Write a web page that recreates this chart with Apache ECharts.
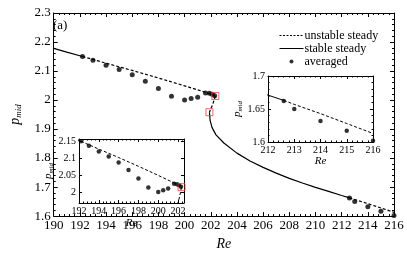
<!DOCTYPE html>
<html><head><meta charset="utf-8">
<script src="https://cdn.jsdelivr.net/npm/echarts@6/dist/echarts.min.js"></script>
<style>html,body{margin:0;padding:0;background:#fff}#c{width:407px;height:256px}</style>
</head><body><div id="c"></div>
<script>
// ---- data ----
const stableUpperRe = [190, 191, 192.2];
const stableUpperP  = [2.178, 2.165, 2.150];
const unstableUpperRe = [192.2, 194, 196, 198, 200, 202, 202.35];
const unstableUpperP  = [2.150, 2.127, 2.102, 2.076, 2.049, 2.021, 2.014];
const foldRe = [202.35, 202.15, 201.9];
const foldP  = [2.014, 1.985, 1.958];
const stableLowerRe = [201.9, 201.95, 202.1, 202.4, 203, 204, 205, 206, 207, 208, 209, 210, 211, 212, 212.6];
const stableLowerP  = [1.958, 1.930, 1.905, 1.880, 1.852, 1.817, 1.790, 1.768, 1.748, 1.730, 1.714, 1.699, 1.685, 1.671, 1.663];
const unstableLowerRe = [212.6, 213, 214, 215, 216];
const unstableLowerP  = [1.663, 1.657, 1.643, 1.628, 1.613];
const avgRe = [192.2, 193, 194, 195, 196, 197, 198, 199, 200, 200.5, 201, 201.6, 201.9, 202.1, 202.3, 212.6, 213, 214, 215, 216];
const avgP  = [2.150, 2.137, 2.120, 2.105, 2.087, 2.065, 2.040, 2.013, 2.000, 2.005, 2.010, 2.024, 2.023, 2.020, 2.015, 1.662, 1.650, 1.632, 1.617, 1.602];
const bifRe = [202.35, 201.9];
const bifP  = [2.014, 1.958];
const inset1YTicks = [2, 2.05, 2.1, 2.15];
const legendNames = ['unstable steady', 'stable steady', 'averaged'];

const zip = (a, b) => a.map((v, i) => [v, b[i]]);
const FONT = 'Liberation Serif';

const chart = echarts.init(document.getElementById('c'), null, {renderer: 'canvas'});

const grids = [
  {left: 36, right: 13, top: 13, bottom: 28},
  {left: 79, top: 139, width: 105, height: 64, show: true, backgroundColor: '#fff', borderColor: 'transparent', z: 5},
  {left: 268, top: 76, width: 105, height: 66, show: true, backgroundColor: '#fff', borderColor: 'transparent', z: 5}
];

function axisPair(kind, grid, min, max, interval, fs, major, minor, nameTxt, nameGap, extra) {
  const posMain = kind === 'x' ? 'bottom' : 'left';
  const posMirror = kind === 'x' ? 'top' : 'right';
  const base = {
    type: 'value', gridIndex: grid, min: min, max: max, interval: interval,
    splitLine: {show: false}, z: 6,
    axisLine: {show: true, onZero: false, lineStyle: {color: '#000', width: 1}},
    axisTick: {show: true, inside: true, length: major, lineStyle: {color: '#000'}},
    minorTick: {show: true, splitNumber: 5, length: minor, lineStyle: {color: '#000'}}
  };
  const a = Object.assign({}, base, {
    position: posMain,
    axisLabel: {show: true, color: '#000', fontFamily: FONT, fontSize: fs, margin: 3, showMaxLabel: (extra && extra.hideMax) ? false : true},
    name: nameTxt, nameLocation: 'middle', nameGap: nameGap
  }, extra && extra.main || {});
  const b = Object.assign({}, base, {position: posMirror, axisLabel: {show: false}}, extra && extra.mirror || {});
  return [a, b];
}

const reName = {fontFamily: FONT, fontStyle: 'italic', color: '#000'};
const pRich = (ps, ss) => ({
  p: {fontFamily: FONT, fontStyle: 'italic', fontSize: ps, color: '#000'},
  s: {fontFamily: FONT, fontStyle: 'italic', fontSize: ss, color: '#000', padding: [ss * 0.9, 0, 0, 0]}
});

const xAxes = [].concat(
  axisPair('x', 0, 190, 216, 2, 13, 4, 2, 'Re', 19, {main: {nameTextStyle: Object.assign({fontSize: 14}, reName)}}),
  axisPair('x', 1, 192, 202.6, 2, 10, 3, 1.5, 'Re', 15, {hideMax: true, main: {nameTextStyle: Object.assign({fontSize: 11}, reName)}}),
  axisPair('x', 2, 212, 216, 1, 10, 3, 1.5, 'Re', 13, {main: {nameTextStyle: Object.assign({fontSize: 11}, reName)}})
);

const yMainPair = axisPair('y', 0, 1.6, 2.3, 0.1, 13, 4, 2, '{p|p}{s|mid}', 19,
  {main: {nameTextStyle: {rich: pRich(14, 9)}}});
const yIn1 = axisPair('y', 1, 1.967, 2.157, null, 10, 3, 1.5, '{p|p}{s|mid}', 20,
  {main: {nameTextStyle: {rich: pRich(11, 7)}, axisTick: {show: true, inside: true, length: 3, customValues: inset1YTicks, lineStyle: {color: '#000'}},
          axisLabel: {show: true, color: '#000', fontFamily: FONT, fontSize: 10, margin: 3, customValues: inset1YTicks}, minorTick: {show: false}},
   mirror: {axisTick: {show: true, inside: true, length: 3, customValues: inset1YTicks, lineStyle: {color: '#000'}}, minorTick: {show: false}}});
const yIn2 = axisPair('y', 2, 1.6, 1.7, 0.05, 10, 3, 1.5, '{p|p}{s|mid}', 21,
  {main: {nameTextStyle: {rich: pRich(11, 7)}}});
const yAxes = [].concat(yMainPair, yIn1, yIn2);

function lineSeries(name, re, p, xi, yi, dashed, w) {
  return {type: 'line', name: name, data: zip(re, p), xAxisIndex: xi, yAxisIndex: yi,
    symbol: 'none', smooth: false, clip: true, z: 7, itemStyle: {color: '#000'},
    lineStyle: {color: '#000', width: w, type: dashed ? [3, 2] : 'solid'}};
}
function allLines(xi, yi, w) {
  return [
    lineSeries('stable steady', stableUpperRe, stableUpperP, xi, yi, false, w),
    lineSeries('unstable steady', unstableUpperRe, unstableUpperP, xi, yi, true, w),
    lineSeries('unstable steady', foldRe, foldP, xi, yi, true, w),
    lineSeries('stable steady', stableLowerRe, stableLowerP, xi, yi, false, w),
    lineSeries('unstable steady', unstableLowerRe, unstableLowerP, xi, yi, true, w)
  ];
}
function pointSeries(xi, yi, sz, sq) {
  return [
    {type: 'scatter', name: 'averaged', data: zip(avgRe, avgP), xAxisIndex: xi, yAxisIndex: yi, clip: true, z: 8,
      symbol: 'circle', symbolSize: sz, itemStyle: {color: '#000'}},
    {type: 'scatter', name: 'bif', data: zip(bifRe, bifP), xAxisIndex: xi, yAxisIndex: yi, clip: true, z: 9,
      symbol: 'rect', symbolSize: sq, itemStyle: {color: 'rgba(0,0,0,0)', borderColor: '#e8413c', borderWidth: 1}}
  ];
}

const series = [].concat(
  allLines(0, 0, 1.2), pointSeries(0, 0, 5, 7),
  allLines(2, 2, 1), pointSeries(2, 2, 4.5, 7),
  allLines(4, 4, 1), pointSeries(4, 4, 4.5, 7)
);

chart.setOption({
  animation: false,
  backgroundColor: '#fff',
  grid: grids,
  xAxis: xAxes,
  yAxis: yAxes,
  legend: {
    data: [
      {name: legendNames[0], itemStyle: {opacity: 0}, lineStyle: {width: 1, type: [2, 1.5], color: '#000'}},
      {name: legendNames[1], itemStyle: {opacity: 0}, lineStyle: {width: 1, color: '#000'}},
      {name: legendNames[2]}
    ],
    orient: 'vertical', left: 274, top: 24, itemWidth: 24, itemHeight: 4, itemGap: 0,
    textStyle: {fontFamily: FONT, fontSize: 12, lineHeight: 13, color: '#000', padding: [0, 0, 0, -4]}, selectedMode: false
  },
  graphic: [{type: 'text', left: 53, top: 19, style: {text: '(a)', fontFamily: FONT, fontSize: 13, fill: '#000'}}],
  series: series
});
</script></body></html>
